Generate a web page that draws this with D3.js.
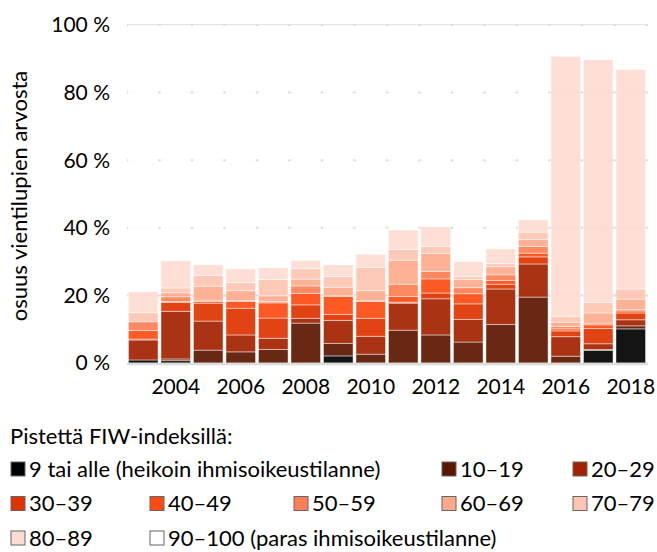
<!DOCTYPE html>
<html>
<head>
<meta charset="utf-8">
<script src="https://cdn.jsdelivr.net/npm/d3@7"></script>
<style>
  body { margin: 0; background: #fff; }
  svg text { font-family: Lato, "DejaVu Sans", sans-serif; fill: #000; }
</style>
</head>
<body>
<svg id="chart" width="657" height="552"></svg>
<script>
var years = ["2003","2004","2005","2006","2007","2008","2009","2010","2011","2012","2013","2014","2015","2016","2017","2018"];
var yTicks = [0, 20, 40, 60, 80, 100];
var xTickYears = ["2004","2006","2008","2010","2012","2014","2016","2018"];

var categories = ["9 tai alle (heikoin ihmisoikeustilanne)", "10–19", "20–29", "30–39", "40–49",
    "50–59", "60–69", "70–79", "80–89", "90–100 (paras ihmisoikeustilanne)"];
var colors = ["#000000", "#5b1600", "#a32200", "#de3300", "#fd4b12",
    "#fd7f55", "#fdaa8c", "#fec6b2", "#fedcd3", "#ffffff"];

// osuus (%) per luokka, vuodet 2003..2018
var s0_9   = [0.9, 0.7, 0, 0, 0, 0, 2.1, 0, 0, 0, 0, 0, 0, 0, 3.7, 10.1];
var s10_19 = [0, 0.5, 3.8, 3.3, 4.0, 11.8, 3.7, 2.6, 9.7, 8.3, 6.2, 11.4, 19.5, 2.0, 0.3, 0.9];
var s20_29 = [5.9, 14.1, 8.6, 5.0, 3.3, 1.4, 6.8, 5.3, 8.0, 10.7, 6.7, 10.5, 9.8, 5.8, 1.7, 1.8];
var s30_39 = [0.3, 2.6, 5.3, 7.9, 6.0, 4.0, 1.8, 5.3, 0.3, 1.7, 4.6, 1.4, 2.1, 1.7, 4.5, 2.0];
var s40_49 = [2.5, 0.3, 0.5, 2.0, 4.5, 3.4, 5.3, 5.0, 1.7, 4.2, 3.0, 1.1, 1.1, 0.6, 1.1, 0.6];
var s50_59 = [2.6, 1.4, 0.4, 0.3, 0.4, 2.2, 0.2, 0.2, 3.6, 2.2, 1.8, 1.7, 2.0, 0.7, 0.5, 0.4];
var s60_69 = [0, 1.2, 4.1, 2.9, 1.7, 2.0, 2.5, 3.0, 7.1, 5.3, 2.4, 2.4, 2.1, 1.3, 3.0, 3.1];
var s70_79 = [2.7, 1.4, 3.2, 2.4, 4.8, 3.1, 3.2, 6.9, 3.2, 2.1, 0.9, 0.9, 2.1, 1.7, 3.1, 3.0];
var s80_89 = [6.3, 8.1, 3.2, 4.1, 3.5, 2.5, 3.5, 3.9, 5.8, 5.8, 4.5, 4.4, 3.7, 77.0, 71.9, 65.0];

var series = [s0_9, s10_19, s20_29, s30_39, s40_49, s50_59, s60_69, s70_79, s80_89];

// taulukko d3.stackia varten, loput 100 %:iin on 90–100
var table = years.map(function (y, i) {
    var row = { year: y }, sum = 0;
    series.forEach(function (s, k) { row["c" + k] = s[i]; sum += s[i]; });
    row["c9"] = Math.max(0, 100 - sum);
    return row;
});
var keys = categories.map(function (c, k) { return "c" + k; });

var svg = d3.select("#chart");
var x = d3.scaleBand().domain(years).range([127, 647]).paddingInner(0.09).paddingOuter(0.045);
var y = d3.scaleLinear().domain([0, 100]).range([363, 25]);

// ruudukko
var grid = svg.append("g");
grid.selectAll("line").data(yTicks.filter(function (d) { return d > 0; })).enter().append("line")
    .attr("x1", 127).attr("x2", 648)
    .attr("y1", function (d) { return y(d); }).attr("y2", function (d) { return y(d); })
    .attr("stroke", "#dcdcdc").attr("stroke-width", 2);

// pinotut palkit
var stacked = d3.stack().keys(keys)(table);
svg.append("g").selectAll("g").data(stacked).enter().append("g")
    .attr("fill", function (d, k) { return colors[k]; })
    .selectAll("rect").data(function (d) { return d; }).enter().append("rect")
    .attr("x", function (d) { return x(d.data.year); })
    .attr("width", x.bandwidth())
    .attr("y", function (d) { return y(d[1]); })
    .attr("height", function (d) { return Math.max(0, y(d[0]) - y(d[1])); })
    .attr("fill-opacity", 0.92)
    .attr("stroke", "#fff").attr("stroke-opacity", 0.45).attr("stroke-width", 1);

// nollaviiva
svg.append("line").attr("x1", 127).attr("x2", 648).attr("y1", y(0) + 1).attr("y2", y(0) + 1)
    .attr("stroke", "#dcdcdc").attr("stroke-width", 2.5);

// y-akseli
svg.append("g").selectAll("text").data(yTicks).enter().append("text")
    .attr("x", 110).attr("y", function (d) { return y(d); })
    .attr("dy", "0.35em").attr("text-anchor", "end")
    .attr("font-size", "21px")
    .text(function (d) { return d + " %"; });

svg.append("text")
    .attr("transform", "translate(27,196) rotate(-90)")
    .attr("text-anchor", "middle").attr("font-size", "22px")
    .text("osuus vientilupien arvosta");

// x-akseli
svg.append("g").selectAll("text").data(xTickYears).enter().append("text")
    .attr("x", function (d) { return x(d) + x.bandwidth() / 2; })
    .attr("y", 394).attr("text-anchor", "middle").attr("font-size", "21px")
    .text(function (d) { return d; });

// selite
svg.append("text").attr("x", 10).attr("y", 444).attr("font-size", "22px").text("Pistettä FIW-indeksillä:");

var legendPos = [
    [10, 0], [441, 0], [572, 0],
    [10, 1], [149, 1], [293, 1], [441, 1], [572, 1],
    [10, 2], [149, 2]
];
var leg = svg.append("g").selectAll("g").data(categories).enter().append("g")
    .attr("transform", function (d, k) {
        var p = legendPos[k];
        return "translate(" + p[0] + "," + (469 + p[1] * 34.5) + ")";
    });
leg.append("rect").attr("x", 1).attr("y", -7).attr("width", 14).attr("height", 14)
    .attr("fill", function (d, k) { return colors[k]; })
    .attr("stroke", "#666").attr("stroke-width", 1);
leg.append("text").attr("x", 19).attr("dy", "0.35em").attr("font-size", "22px")
    .text(function (d) { return d; });
</script>
</body>
</html>
